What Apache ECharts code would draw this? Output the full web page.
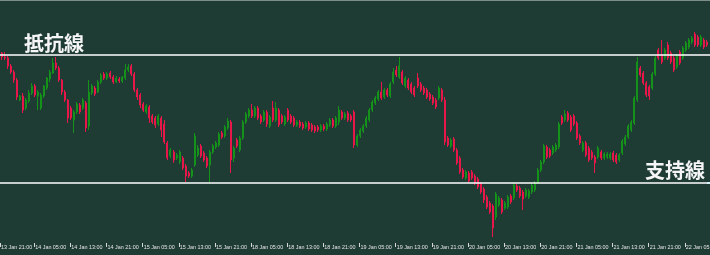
<!DOCTYPE html>
<html><head><meta charset="utf-8">
<script src="https://cdn.jsdelivr.net/npm/echarts@6/dist/echarts.min.js"></script>
<style>html,body{margin:0;padding:0;background:#1e3b34;}#c{width:710px;height:255px;}</style>
</head><body><div id="c"></div>
<script>
// x-axis time labels (one every 12 bars)
const timeLabels = ['13 Jan 21:00','14 Jan 05:00','14 Jan 13:00','14 Jan 21:00','15 Jan 05:00','15 Jan 13:00','15 Jan 21:00','18 Jan 05:00','18 Jan 13:00','18 Jan 21:00','19 Jan 05:00','19 Jan 13:00','19 Jan 21:00','20 Jan 05:00','20 Jan 13:00','20 Jan 21:00','21 Jan 05:00','21 Jan 13:00','21 Jan 21:00','22 Jan 05:00'];
const resistanceLevel = 188;
const supportLevel = 60;
const resistanceText = '抵抗線';
const supportText = '支持線';
// candles: [open, close, low, high]
const ohlc = [
[190,186,183,191],[186,185,183,191],[185,177,174,187],[177,171,169,179],[171,163,160,173],[163,146,143,165],[143,147,142,148],[147,133,130,150],[135,143,133,145],[142,150,140,153],
[150,157,148,160],[157,148,146,159],[147,151,133,153],[135,148,133,150],[147,157,145,158],[155,165,153,166],[164,171,161,173],[170,180,169,185],[180,175,173,186],[175,163,161,177],
[163,151,148,164],[151,143,141,153],[143,125,120,144],[135,125,123,137],[123,131,110,133],[131,139,129,141],[138,131,129,140],[135,143,133,145],[140,115,111,142],[117,151,113,163],
[150,157,148,159],[155,149,147,157],[151,161,150,163],[161,168,159,170],[169,165,163,171],[165,169,163,171],[170,166,164,172],[166,161,159,168],[161,165,160,167],[164,162,160,166],
[162,166,160,167],[165,173,163,179],[173,176,171,179],[177,169,167,179],[169,153,151,171],[153,146,143,155],[148,138,135,150],[139,133,131,141],[131,137,129,139],[136,125,120,138],
[127,121,119,129],[125,118,115,127],[119,127,117,129],[125,113,106,127],[119,101,99,123],[100,85,83,102],[87,93,85,95],[91,83,80,93],[85,88,83,90],[81,91,79,93],
[85,75,73,87],[77,67,61,79],[70,67,65,72],[67,73,65,75],[78,107,76,110],[88,95,86,98],[97,87,85,99],[90,83,81,92],[85,77,75,87],[78,91,61,93],
[91,97,89,99],[96,100,94,102],[98,109,96,111],[110,106,104,112],[107,116,105,118],[115,122,113,125],[121,83,70,123],[85,95,81,97],[103,97,95,105],[93,105,91,107],
[105,121,103,123],[121,129,119,131],[127,133,125,135],[133,127,125,139],[127,135,125,137],[135,125,123,137],[127,121,119,129],[123,131,121,133],[131,119,116,133],[117,126,115,128],
[135,123,121,142],[123,135,121,141],[133,118,116,135],[127,121,119,129],[119,126,117,128],[133,123,121,135],[127,121,119,129],[125,118,116,127],[118,121,116,123],[121,117,115,123],
[119,115,113,121],[116,120,114,122],[120,114,112,122],[118,113,111,120],[116,112,110,118],[116,113,111,118],[113,117,111,119],[117,114,112,119],[114,119,112,121],[118,123,116,125],
[123,117,115,125],[117,125,115,127],[121,133,118,137],[131,125,123,133],[125,129,123,131],[130,123,121,132],[127,123,121,129],[131,98,95,133],[98,107,96,109],[107,113,105,115],
[112,117,110,119],[117,125,115,127],[123,133,121,135],[133,141,131,143],[140,145,138,147],[144,151,142,153],[151,145,143,161],[146,153,144,155],[153,148,146,155],[147,159,145,161],
[161,171,159,175],[173,168,166,177],[166,177,164,186],[171,160,158,173],[157,165,155,167],[163,155,153,165],[159,151,149,161],[155,148,146,157],[165,157,155,170],[159,153,151,161],
[155,150,148,157],[153,146,144,155],[149,144,142,151],[146,140,138,148],[143,136,134,145],[145,155,143,157],[153,143,141,155],[143,101,98,146],[105,98,96,107],[97,103,95,105],
[104,93,91,106],[93,80,78,95],[85,71,69,87],[73,66,64,75],[65,71,63,73],[70,62,60,72],[71,65,63,73],[67,60,58,69],[64,56,54,66],[59,51,49,61],
[54,43,40,56],[46,36,34,48],[40,31,29,42],[37,15,6,39],[26,49,23,51],[38,45,36,47],[43,31,29,45],[35,40,33,42],[36,46,34,48],[47,41,39,49],
[45,58,43,60],[57,53,51,59],[55,47,45,57],[51,44,33,53],[47,53,45,55],[46,52,44,54],[51,58,49,60],[53,60,51,62],[61,73,59,75],[73,81,71,83],
[81,97,79,99],[96,86,84,98],[93,87,85,95],[90,96,88,98],[93,98,91,100],[96,119,94,121],[126,120,118,128],[123,129,121,133],[130,123,121,132],[126,113,111,128],
[127,119,117,129],[120,105,103,122],[107,100,98,109],[93,100,91,102],[100,88,86,102],[95,83,81,97],[91,85,83,93],[86,80,70,88],[86,95,84,97],[91,85,83,93],
[85,89,83,91],[86,89,84,91],[85,89,83,91],[90,83,81,92],[88,81,79,90],[83,88,81,90],[90,102,88,104],[99,106,97,108],[106,117,104,119],[113,121,111,123],
[120,145,118,147],[143,181,141,186],[175,168,166,177],[170,160,158,172],[160,148,146,162],[156,147,143,158],[155,169,153,171],[169,185,167,187],[193,185,183,195],[188,181,179,203],
[185,193,183,195],[198,185,183,201],[190,181,179,192],[185,173,171,187],[176,187,174,189],[191,180,178,193],[185,195,183,197],[193,200,191,202],[196,203,194,205],[201,205,199,207],
[209,198,196,211],[206,198,196,208],[198,206,196,208],[203,196,194,205],[201,198,196,203]
];

const xMin = -0.6, xMax = 235.1;
const tickBase = -1.25, barsPerLabel = 12;
const tickValues = timeLabels.map((_, n) => Math.max(xMin, tickBase + barsPerLabel * n));
const seriesData = ohlc.map((c, i) => [i, c[0], c[1], c[2], c[3]]);

const chart = echarts.init(document.getElementById('c'), null, {renderer: 'canvas'});
chart.setOption({
  animation: false,
  backgroundColor: '#1e3b34',
  grid: {left: 0, right: 0, top: 0, bottom: 12, containLabel: false, outerBoundsMode: 'none'},
  xAxis: {
    type: 'value', min: xMin, max: xMax,
    axisLine: {show: false},
    splitLine: {show: false},
    axisTick: {show: true, length: 4, customValues: tickValues, lineStyle: {color: '#d8d8d8', width: 1}},
    axisLabel: {
      show: true, align: 'left', margin: 2, padding: [0, 0, 0, 1],
      customValues: tickValues,
      color: '#e6e6e6', fontSize: 5.4, fontFamily: 'Liberation Sans',
      formatter: v => { const n = Math.round((v - tickBase) / barsPerLabel); return timeLabels[n] || ''; }
    }
  },
  yAxis: {type: 'value', min: 0, max: 243, show: false, splitLine: {show: false}},
  series: [{
    type: 'candlestick',
    data: seriesData,
    encode: {x: 0, y: [1, 2, 3, 4]},
    barWidth: 1.5,
    itemStyle: {color: '#14921a', color0: '#e8174a', borderColor: '#14921a', borderColor0: '#e8174a', borderWidth: 1},
    markLine: {
      silent: true, symbol: 'none', animation: false,
      label: {show: false},
      lineStyle: {color: '#ffffff', width: 1.5, type: 'solid'},
      data: [{yAxis: resistanceLevel}, {yAxis: supportLevel}]
    }
  }],
  graphic: [
    {type: 'line', shape: {x1: 0, y1: 0.5, x2: 710, y2: 0.5}, style: {stroke: '#7d8e88', lineWidth: 1}},
    {type: 'text', x: 24, y: 43, style: {text: resistanceText, fill: '#f5f5f5', font: 'bold 20px "Noto Sans CJK JP"', verticalAlign: 'middle'}},
    {type: 'text', x: 645, y: 170, style: {text: supportText, fill: '#f5f5f5', font: 'bold 20px "Noto Sans CJK JP"', verticalAlign: 'middle'}},
    {type: 'rect', shape: {x: 707, y: 182, width: 3, height: 2}, style: {fill: '#5ec8e8'}}
  ]
});
</script>
</body></html>
